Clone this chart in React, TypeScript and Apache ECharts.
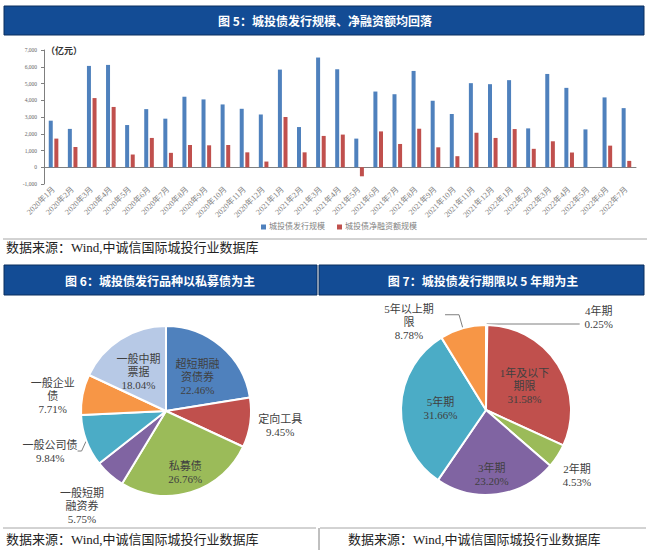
import { useEffect, useRef } from 'react';
import * as echarts from 'echarts';

const months = [
  '2020年1月','2020年2月','2020年3月','2020年4月','2020年5月','2020年6月','2020年7月','2020年8月','2020年9月','2020年10月','2020年11月','2020年12月',
  '2021年1月','2021年2月','2021年3月','2021年4月','2021年5月','2021年6月','2021年7月','2021年8月','2021年9月','2021年10月','2021年11月','2021年12月',
  '2022年1月','2022年2月','2022年3月','2022年4月','2022年5月','2022年6月','2022年7月',
];
const issuance = [2780, 2290, 6050, 6110, 2520, 3470, 2900, 4210, 4050, 3750, 3490, 3150, 5830, 2400, 6550, 5850, 1710, 4520, 4360, 5750, 3970, 3180, 5020, 4960, 5200, 2320, 5570, 4740, 2260, 4170, 3530];
const netFinancing = [1710, 1210, 4130, 3600, 760, 1750, 860, 1330, 1310, 1330, 890, 340, 3000, 890, 1870, 1950, -540, 2140, 1390, 2300, 1190, 660, 2060, 1750, 2280, 1100, 1550, 880, 0, 1290, 380];
const barSeriesNames = ['城投债发行规模', '城投债净融资额规模'];

const varietyNames = ['超短期融资债券', '定向工具', '私募债', '一般短期融资券', '一般公司债', '一般企业债', '一般中期票据'];
const varietyShares = [22.46, 9.45, 26.76, 5.75, 9.84, 7.71, 18.04];
const varietyLabelText = ['超短期融\n资债券', '定向工具', '私募债', '一般短期\n融资券', '一般公司债', '一般企业\n债', '一般中期\n票据'];

const termNames = ['4年期', '1年及以下期限', '2年期', '3年期', '5年期', '5年以上期限'];
const termShares = [0.25, 31.58, 4.53, 23.2, 31.66, 8.78];
const termLabelText = ['4年期', '1年及以下\n期限', '2年期', '3年期', '5年期', '5年以上期\n限'];

const titles = ['图 5：城投债发行规模、净融资额均回落', '图 6：城投债发行品种以私募债为主', '图 7：城投债发行期限以 5 年期为主'];
const sourceText = '数据来源：Wind,中诚信国际城投行业数据库';

// styling / layout (not data)
const officeColors = ['#4F81BD', '#C0504D', '#9BBB59', '#8064A2', '#4BACC6', '#F79646', '#B7C9E6'];
const varietyInside = [true, false, true, false, false, false, true];
const termInside = [false, true, false, true, true, false];
const varietyLine = [false, false, false, false, true, false, false];
const termLine = [true, false, false, false, false, true];
// label line lengths [length, length2]
const varietyLineLen: number[][] = [[4, 4], [4, 4], [4, 4], [4, 4], [4, 4], [4, 4], [4, 4]];
const termLineLen: number[][] = [[1, 93], [4, 4], [4, 4], [4, 4], [4, 4], [14, 14]];
// label offsets [dx, dy, mode]; mode 1 = recentre text, 0 = plain shift
const varietyOffsets: number[][] = [[2, 1, 1], [-5, 2, 1], [6, 18, 1], [6, 28, 1], [4, 9, 1], [5, 2, 1], [-3, -1, 1]];
const termOffsets: number[][] = [[14, -7, 0], [0, 0, 1], [-7, 17, 1], [0, 19, 1], [0, 0, 1], [-31, 7, 0]];

const SERIF = '"Liberation Serif", "Noto Sans CJK SC", serif';
const SANS = '"Noto Sans CJK SC", sans-serif';

function pieData(names: string[], shares: number[], texts: string[], inside: boolean[], line: boolean[], lens: number[][]) {
  return names.map((n, i) => ({
    name: n,
    value: shares[i],
    itemStyle: { color: officeColors[i] },
    label: {
      position: inside[i] ? 'inside' : 'outside',
      formatter: texts[i] + '\n' + shares[i].toFixed(2) + '%',
    },
    labelLine: { show: line[i], length: lens[i][0], length2: lens[i][1] },
  }));
}

function makeLayout(offsets: number[][]) {
  return (p: any) => {
    const o = offsets[p.dataIndex] || [0, 0, 1];
    const r = p.labelRect;
    if (o[2] === 0) {
      return { dx: o[0], dy: o[1], align: 'center' };
    }
    return {
      x: r.x + r.width / 2 + o[0],
      y: r.y + r.height / 2 + o[1],
      align: 'center',
      verticalAlign: 'middle',
    };
  };
}

export default function App() {
  const ref = useRef<HTMLDivElement>(null);
  useEffect(() => {
    if (!ref.current) return;
    const chart = echarts.init(ref.current, null, { renderer: 'svg' });
    const pieLabel = {
      color: '#404040',
      fontSize: 11,
      fontFamily: SERIF,
      lineHeight: 13,
    };
    const pieLine = { lineStyle: { color: '#7f7f7f', width: 1 } };
    chart.setOption({
      animation: false,
      backgroundColor: '#ffffff',
      legend: {
        data: barSeriesNames,
        top: 218,
        left: 256,
        itemWidth: 5,
        itemHeight: 5,
        itemGap: 12,
        icon: 'rect',
        textStyle: { fontSize: 8, color: '#7f7f7f', fontFamily: SERIF, padding: [0, 0, 0, -2] },
      },
      grid: { left: 44, right: 14, top: 50, height: 134, containLabel: false },
      xAxis: {
        type: 'category',
        data: months,
        axisLine: { onZero: true, lineStyle: { color: '#7f7f7f', width: 1 } },
        axisTick: { show: false },
        axisLabel: { rotate: 45, interval: 0, fontSize: 8, color: '#808080', fontFamily: SERIF, margin: 4 },
      },
      yAxis: {
        type: 'value',
        min: -1000,
        max: 7000,
        interval: 1000,
        name: '（亿元）',
        nameLocation: 'end',
        nameGap: 0,
        nameTextStyle: { align: 'left', verticalAlign: 'middle', padding: [0, 0, 0, 2], fontSize: 9, color: '#333', fontWeight: 'bold', fontFamily: SANS },
        axisLine: { show: true, lineStyle: { color: '#7f7f7f' } },
        axisTick: { show: true, inside: false, length: 3, lineStyle: { color: '#7f7f7f' } },
        splitLine: { show: false },
        axisLabel: { fontSize: 5.5, color: '#666', margin: 7, fontFamily: SERIF },
      },
      series: [
        { name: barSeriesNames[0], type: 'bar', data: issuance, barWidth: 4, barGap: '40%', itemStyle: { color: officeColors[0] } },
        { name: barSeriesNames[1], type: 'bar', data: netFinancing, barWidth: 4, itemStyle: { color: officeColors[1] } },
        {
          type: 'pie',
          center: [166, 411],
          radius: [0, 85],
          startAngle: 90,
          clockwise: true,
          avoidLabelOverlap: false,
          itemStyle: { borderColor: '#fff', borderWidth: 2 },
          label: pieLabel,
          labelLine: pieLine,
          labelLayout: makeLayout(varietyOffsets),
          data: pieData(varietyNames, varietyShares, varietyLabelText, varietyInside, varietyLine, varietyLineLen),
        },
        {
          type: 'pie',
          center: [486, 410],
          radius: [0, 85],
          startAngle: 90,
          clockwise: true,
          avoidLabelOverlap: false,
          itemStyle: { borderColor: '#fff', borderWidth: 2 },
          label: pieLabel,
          labelLine: pieLine,
          labelLayout: makeLayout(termOffsets),
          data: pieData(termNames, termShares, termLabelText, termInside, termLine, termLineLen),
        },
      ],
      graphic: [
        { type: 'rect', shape: { x: 4, y: 6, width: 640, height: 29 }, style: { fill: '#134C95', stroke: '#0B2F5E', lineWidth: 1 } },
        { type: 'text', x: 325, y: 20.5, style: { text: titles[0], fill: '#fff', fontSize: 12, fontWeight: 'bold', fontFamily: SANS, align: 'center', verticalAlign: 'middle' } },
        { type: 'rect', shape: { x: 4, y: 265, width: 313, height: 30 }, style: { fill: '#134C95', stroke: '#0B2F5E', lineWidth: 1 } },
        { type: 'text', x: 160, y: 280.5, style: { text: titles[1], fill: '#fff', fontSize: 12, fontWeight: 'bold', fontFamily: SANS, align: 'center', verticalAlign: 'middle' } },
        { type: 'rect', shape: { x: 319, y: 265, width: 325, height: 30 }, style: { fill: '#134C95', stroke: '#0B2F5E', lineWidth: 1 } },
        { type: 'text', x: 483, y: 280.5, style: { text: titles[2], fill: '#fff', fontSize: 12, fontWeight: 'bold', fontFamily: SANS, align: 'center', verticalAlign: 'middle' } },
        { type: 'line', shape: { x1: 3, y1: 239, x2: 647, y2: 239 }, style: { stroke: '#a6a6a6', lineWidth: 1 } },
        { type: 'line', shape: { x1: 3, y1: 528, x2: 316, y2: 528 }, style: { stroke: '#a6a6a6', lineWidth: 1 } },
        { type: 'line', shape: { x1: 320, y1: 528, x2: 646, y2: 528 }, style: { stroke: '#a6a6a6', lineWidth: 1 } },
        { type: 'line', shape: { x1: 319, y1: 528, x2: 319, y2: 550 }, style: { stroke: '#808080', lineWidth: 1 } },
        { type: 'text', x: 6, y: 247, style: { text: sourceText, fill: '#222', fontSize: 13, fontFamily: SERIF, align: 'left', verticalAlign: 'middle' } },
        { type: 'text', x: 6, y: 539, style: { text: sourceText, fill: '#222', fontSize: 13, fontFamily: SERIF, align: 'left', verticalAlign: 'middle' } },
        { type: 'text', x: 348, y: 539, style: { text: sourceText, fill: '#222', fontSize: 13, fontFamily: SERIF, align: 'left', verticalAlign: 'middle' } },
      ],
    });
    return () => chart.dispose();
  }, []);
  return <div ref={ref} style={{ position: 'absolute', left: 0, top: 0, width: 650, height: 550 }} />;
}
